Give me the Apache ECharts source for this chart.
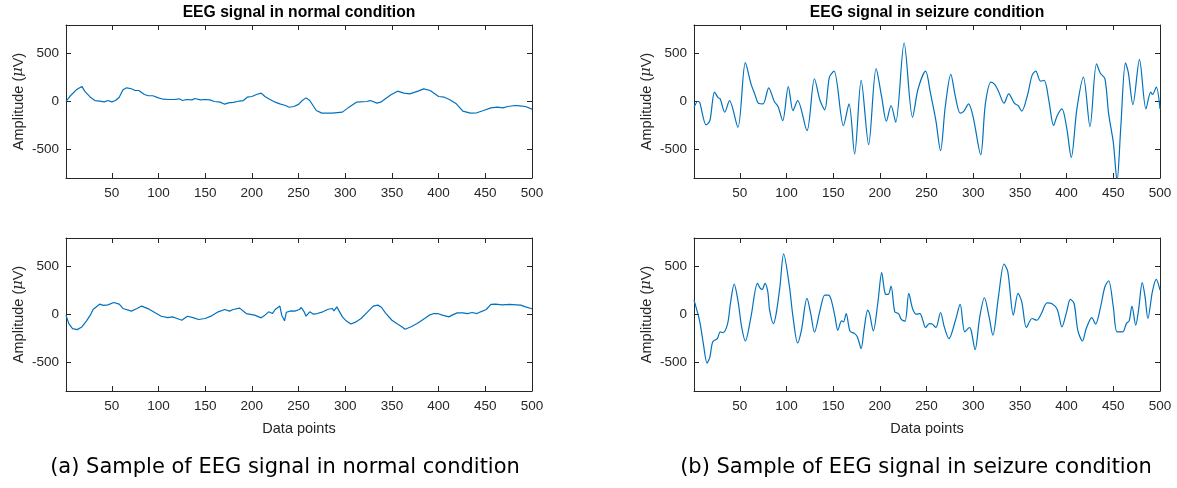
<!DOCTYPE html>
<html><head><meta charset="utf-8">
<script src="https://cdn.jsdelivr.net/npm/echarts@6/dist/echarts.min.js"></script>
<style>html,body{margin:0;padding:0;background:#fff}#c{width:1177px;height:488px}</style>
</head><body><div id="c"></div>
<script>
// ---- tick labels / text ----
const xTicks = [50, 100, 150, 200, 250, 300, 350, 400, 450, 500];
const yTicks = [-500, 0, 500];
const panelTitles = ['EEG signal in normal condition', 'EEG signal in seizure condition'];
const captions = ['(a) Sample of EEG signal in normal condition', '(b) Sample of EEG signal in seizure condition'];
const xName = 'Data points';

// ---- normal condition, top ----
const normalTopX = [1,5,12,18,21,27,32,37,42,46,50,54,58,62,66,71,75,79,85,89,94,100,105,111,117,122,126,130,136,139,145,150,155,160,166,171,175,180,186,191,195,200,205,210,214,219,225,230,236,240,245,250,254,258,262,269,275,286,297,304,312,323,327,334,338,343,349,356,363,369,378,384,391,400,406,411,419,426,434,441,448,456,463,469,474,482,487,493,500];
const normalTopY = [0,52,122,158,108,45,10,3,-4,10,-4,10,45,122,143,133,115,115,73,60,60,38,24,21,21,28,10,21,17,31,17,21,17,0,-7,-28,-14,-10,3,10,45,52,73,88,52,24,-7,-25,-42,-60,-52,-30,10,38,10,-94,-122,-122,-111,-59,-7,0,10,-17,-7,28,70,108,87,80,108,132,115,52,45,24,-24,-101,-122,-118,-94,-66,-59,-66,-52,-42,-45,-52,-80];

// ---- normal condition, bottom ----
const normalBotX = [1,4,8,13,18,23,27,30,37,41,46,52,58,62,71,77,82,90,96,103,110,115,120,125,131,137,143,150,157,164,171,176,180,187,194,203,210,214,218,222,225,227,230,232,235,237,242,246,251,253,256,258,262,266,270,276,281,286,288,291,293,297,301,306,311,317,324,330,335,339,343,350,356,361,364,370,377,385,390,395,399,404,411,415,420,426,431,436,441,445,451,456,461,468,476,483,488,493,500];
const normalBotY = [-7,-95,-147,-158,-130,-66,-7,52,108,95,101,126,108,63,35,63,88,56,21,-18,-32,-25,-42,-60,-18,-32,-52,-42,-14,28,52,35,52,67,10,-7,-35,-7,28,10,52,38,88,-7,-66,24,38,35,52,73,28,-18,28,3,10,28,52,63,38,80,63,-25,-66,-100,-80,-42,28,88,98,73,17,-60,-100,-130,-154,-130,-95,-42,-7,10,10,-7,-25,-4,17,17,10,21,10,28,52,105,108,101,105,101,98,80,60];

// ---- seizure condition, top ----
const seizureTopX = [1,5,7,14,18,23,27,29,34,39,48,56,62,66,70,75,81,87,91,96,102,107,112,122,130,136,141,146,151,161,167,173,180,188,196,202,207,212,217,226,235,241,249,254,260,265,270,276,281,286,290,295,300,308,313,319,323,327,333,338,344,348,352,358,363,367,372,376,381,386,390,395,400,405,411,418,425,432,436,441,445,450,454,458,463,466,471,478,485,490,492,496,500];
const seizureTopY = [-66,0,-7,-245,-200,98,38,28,-112,10,-270,406,185,80,-18,-25,143,0,-52,-200,157,-95,10,-305,238,10,-88,255,318,-252,-25,-550,220,-450,343,45,-206,-42,-217,612,-165,133,318,98,-200,-515,-60,284,45,-122,-100,-25,-165,-557,-25,203,178,108,-18,80,-18,-42,-100,63,273,318,213,220,10,-252,-147,-77,-270,-585,-77,255,-262,395,298,238,-130,-427,-830,-270,403,308,-32,438,-77,98,73,150,-77];

// ---- seizure condition, bottom ----
const seizureBotX = [1,7,11,15,18,21,26,29,32,37,40,44,48,52,56,62,69,72,74,77,80,82,86,89,93,97,103,107,112,116,122,126,130,136,141,145,148,152,155,159,161,164,168,173,176,180,183,187,189,193,198,202,206,209,212,216,220,223,227,231,235,239,243,246,249,253,256,260,265,269,274,281,286,291,296,298,302,307,312,317,321,327,333,337,343,348,352,357,363,368,373,379,384,390,395,400,404,408,412,417,421,427,431,436,441,445,450,454,460,464,467,470,474,477,481,484,487,492,496,500];
const seizureBotY = [150,-66,-305,-508,-445,-287,-252,-182,-189,-95,115,318,150,-130,-277,-25,325,273,262,325,238,45,-95,10,290,633,308,-25,-298,-165,168,10,-185,45,203,203,150,-25,-165,-66,-77,10,-172,-200,-235,-357,-165,45,10,-172,133,438,213,210,298,28,10,-52,-70,220,63,3,10,-60,-136,-95,-100,-136,21,-130,-252,-60,105,-182,-136,-175,-368,-25,175,-25,-217,185,528,448,-7,220,133,-136,-42,-60,10,122,115,52,-130,28,158,115,-165,-277,-147,-32,-100,63,290,353,80,-182,-182,-95,-66,88,-112,45,333,185,-42,248,368,255];

const AX = '#262626';
const FONT = 'Liberation Sans, Arial, sans-serif';
const LINE = '#0072BD';

const panels = [
  {left: 66,  top: 25,  xs: normalTopX,  ys: normalTopY,  smooth: false, bottom: false},
  {left: 66,  top: 238, xs: normalBotX,  ys: normalBotY,  smooth: false, bottom: true},
  {left: 694, top: 25,  xs: seizureTopX, ys: seizureTopY, smooth: 0.3,   bottom: false},
  {left: 694, top: 238, xs: seizureBotX, ys: seizureBotY, smooth: 0.3,   bottom: true}
];

const grid = [], xAxis = [], yAxis = [], series = [];
panels.forEach((p, i) => {
  grid.push({left: p.left, top: p.top, width: 466, height: 153, containLabel: false});
  const lineStyle = {color: AX, width: 1};
  xAxis.push({
    gridIndex: i, type: 'value', min: 1, max: 500, position: 'bottom',
    axisLine: {show: true, onZero: false, lineStyle},
    axisTick: {show: true, inside: true, length: 5, customValues: xTicks, lineStyle},
    axisLabel: {show: true, customValues: xTicks, margin: 8, fontSize: 13.5, color: AX, fontFamily: FONT},
    splitLine: {show: false},
    name: p.bottom ? xName : '', nameLocation: 'middle', nameGap: 30,
    nameTextStyle: {fontSize: 14.5, color: AX, fontFamily: FONT}
  });
  xAxis.push({
    gridIndex: i, type: 'value', min: 1, max: 500, position: 'top',
    axisLine: {show: true, onZero: false, lineStyle},
    axisTick: {show: true, inside: true, length: 5, customValues: xTicks, lineStyle},
    axisLabel: {show: false}, splitLine: {show: false}
  });
  yAxis.push({
    gridIndex: i, type: 'value', min: -800, max: 800, position: 'left',
    axisLine: {show: true, onZero: false, lineStyle},
    axisTick: {show: true, inside: true, length: 5, customValues: yTicks, lineStyle},
    axisLabel: {show: true, customValues: yTicks, margin: 7, fontSize: 13.5, color: AX, fontFamily: FONT},
    splitLine: {show: false},
    name: 'Amplitude ({m|μ}V)', nameLocation: 'middle', nameGap: 40,
    nameTextStyle: {fontSize: 14.5, color: AX, fontFamily: FONT,
      rich: {m: {fontSize: 14.5, color: AX, fontStyle: 'italic', fontFamily: 'DejaVu Serif, serif'}}}
  });
  yAxis.push({
    gridIndex: i, type: 'value', min: -800, max: 800, position: 'right',
    axisLine: {show: true, onZero: false, lineStyle},
    axisTick: {show: true, inside: true, length: 5, customValues: yTicks, lineStyle},
    axisLabel: {show: false}, splitLine: {show: false}
  });
  series.push({
    type: 'line', xAxisIndex: i * 2, yAxisIndex: i * 2,
    data: p.xs.map((x, k) => [x, p.ys[k]]),
    showSymbol: false, symbol: 'none', smooth: p.smooth, clip: true,
    lineStyle: {color: LINE, width: 1.2}
  });
});

const graphic = [
  {type: 'text', x: 299, y: 13, style: {text: panelTitles[0], fontSize: 15.7, fontWeight: 'bold', fill: '#000', fontFamily: FONT, textAlign: 'center', textVerticalAlign: 'middle'}},
  {type: 'text', x: 927, y: 13, style: {text: panelTitles[1], fontSize: 15.7, fontWeight: 'bold', fill: '#000', fontFamily: FONT, textAlign: 'center', textVerticalAlign: 'middle'}},
  {type: 'text', x: 285, y: 468, style: {text: captions[0], fontSize: 21, fill: '#000', fontFamily: 'DejaVu Sans, sans-serif', textAlign: 'center', textVerticalAlign: 'middle'}},
  {type: 'text', x: 916, y: 468, style: {text: captions[1], fontSize: 21, fill: '#000', fontFamily: 'DejaVu Sans, sans-serif', textAlign: 'center', textVerticalAlign: 'middle'}}
];

const chart = echarts.init(document.getElementById('c'), null, {renderer: 'canvas'});
chart.setOption({backgroundColor: '#fff', animation: false, grid, xAxis, yAxis, series, graphic});
</script></body></html>
